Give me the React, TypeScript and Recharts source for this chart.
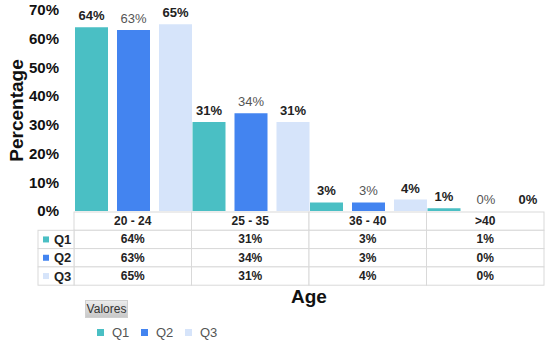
import React from 'react';
import { BarChart, Bar, XAxis, YAxis, LabelList } from 'recharts';

const categories = ['20 - 24', '25 - 35', '36 - 40', '>40'];
const q1 = [64, 31, 3, 1];
const q2 = [63, 34, 3, 0];
const q3 = [65, 31, 4, 0];
const seriesNames = ['Q1', 'Q2', 'Q3'];
const seriesColors = ['#4abfc4', '#4384f0', '#d6e4fa'];
const yTicks = [0, 10, 20, 30, 40, 50, 60, 70];

const data = categories.map((c, i) => ({ name: c, Q1: q1[i], Q2: q2[i], Q3: q3[i] }));
const seriesValues = [q1, q2, q3];

const FONT = "Arial, 'Liberation Sans', sans-serif";
const W = 550;
const H = 345;
const PLOT_LEFT = 74;
const PLOT_RIGHT = 544;
const COL_W = (PLOT_RIGHT - PLOT_LEFT) / categories.length;
const ROW_H = 18.3;
const TABLE_TOP = 212;
const GRID = '#d9d9d9';

const minSize = (v: any) => (v === 0 ? 0.01 : 0);

const TableTick = (props: any) => {
  const { x, index, payload } = props;
  const left = x - COL_W / 2;
  const rows: any[] = [];
  rows.push(
    <g key="h">
      <rect x={left} y={TABLE_TOP} width={COL_W} height={ROW_H} fill="#fff" stroke={GRID} strokeWidth={1} />
      <text x={x} y={TABLE_TOP + ROW_H / 2 + 4} textAnchor="middle" fontSize={12} fontWeight="bold" fill="#222" fontFamily={FONT}>
        {payload.value}
      </text>
    </g>
  );
  seriesValues.forEach((vals, s) => {
    const ry = TABLE_TOP + ROW_H * (s + 1);
    rows.push(
      <g key={'r' + s}>
        <rect x={left} y={ry} width={COL_W} height={ROW_H} fill="#fff" stroke={GRID} strokeWidth={1} />
        <text x={x} y={ry + ROW_H / 2 + 4} textAnchor="middle" fontSize={12} fontWeight="bold" fill="#222" fontFamily={FONT}>
          {vals[index] + '%'}
        </text>
      </g>
    );
    if (index === 0) {
      const hx = left - 36;
      rows.push(
        <g key={'l' + s}>
          <rect x={hx} y={ry} width={36} height={ROW_H} fill="#fff" stroke={GRID} strokeWidth={1} />
          <rect x={hx + 5} y={ry + ROW_H / 2 - 3} width={6} height={6} fill={seriesColors[s]} />
          <text x={hx + 16} y={ry + ROW_H / 2 + 4.5} fontSize={13} fontWeight="bold" fill="#222" fontFamily={FONT}>
            {seriesNames[s]}
          </text>
        </g>
      );
    }
  });
  return <g>{rows}</g>;
};

const YLabel = (props: any) => {
  const vb = props.viewBox || { x: 0, y: 10, width: 74, height: 201 };
  const cx = vb.x + 16;
  const cy = vb.y + vb.height / 2;
  return (
    <text
      x={cx}
      y={cy}
      transform={`rotate(-90 ${cx} ${cy})`}
      textAnchor="middle"
      dominantBaseline="central"
      fontSize={19}
      fontWeight="bold"
      fill="#111"
      fontFamily={FONT}
    >
      Percentage
    </text>
  );
};

export default function App() {
  return (
    <div style={{ position: 'absolute', left: 0, top: 0, width: W, height: H, background: '#fff', fontFamily: FONT }}>
      <BarChart
        width={W}
        height={H}
        data={data}
        margin={{ top: 10, right: W - PLOT_RIGHT, bottom: 38, left: 0 }}
        barCategoryGap={1}
        barGap={9}
      >
        <XAxis
          dataKey="name"
          axisLine={false}
          tickLine={false}
          tickSize={0}
          tickMargin={0}
          interval={0}
          height={96}
          tick={<TableTick />}
          label={{ value: 'Age', position: 'insideBottom', offset: 4, fontSize: 19, fontWeight: 'bold', fill: '#111', fontFamily: FONT }}
        />
        <YAxis
          domain={[0, 70]}
          ticks={yTicks}
          width={PLOT_LEFT}
          axisLine={false}
          tickLine={false}
          tickMargin={9}
          tickFormatter={(v: number) => v + '%'}
          tick={{ fontSize: 15, fontWeight: 'bold', fill: '#111', fontFamily: FONT }}
          label={<YLabel />}
        />
        <Bar dataKey="Q1" name="Q1" fill={seriesColors[0]} isAnimationActive={false} minPointSize={minSize}>
          <LabelList dataKey="Q1" position="top" offset={7} formatter={(v: any) => v + '%'} fill="#222" fontWeight="bold" fontSize={13} fontFamily={FONT} />
        </Bar>
        <Bar dataKey="Q2" name="Q2" fill={seriesColors[1]} isAnimationActive={false} minPointSize={minSize}>
          <LabelList dataKey="Q2" position="top" offset={7} formatter={(v: any) => v + '%'} fill="#555" fontSize={13} fontFamily={FONT} />
        </Bar>
        <Bar dataKey="Q3" name="Q3" fill={seriesColors[2]} isAnimationActive={false} minPointSize={minSize}>
          <LabelList dataKey="Q3" position="top" offset={7} formatter={(v: any) => v + '%'} fill="#222" fontWeight="bold" fontSize={13} fontFamily={FONT} />
        </Bar>
      </BarChart>
      <div
        style={{
          position: 'absolute',
          left: 85,
          top: 300,
          width: 43,
          height: 18,
          background: 'linear-gradient(#ececec, #c8c8c8)',
          border: '1px solid #d0d0d0',
          boxSizing: 'border-box',
          fontSize: 12,
          color: '#333',
          textAlign: 'center',
          lineHeight: '16px',
          fontFamily: FONT,
        }}
      >
        Valores
      </div>
      {seriesNames.map((n, i) => (
        <div
          key={n}
          style={{ position: 'absolute', left: 97 + i * 44, top: 325, display: 'flex', alignItems: 'center', fontFamily: FONT }}
        >
          <span style={{ display: 'inline-block', width: 7, height: 7, background: seriesColors[i], marginRight: 8 }} />
          <span style={{ fontSize: 13, color: '#555' }}>{n}</span>
        </div>
      ))}
    </div>
  );
}
